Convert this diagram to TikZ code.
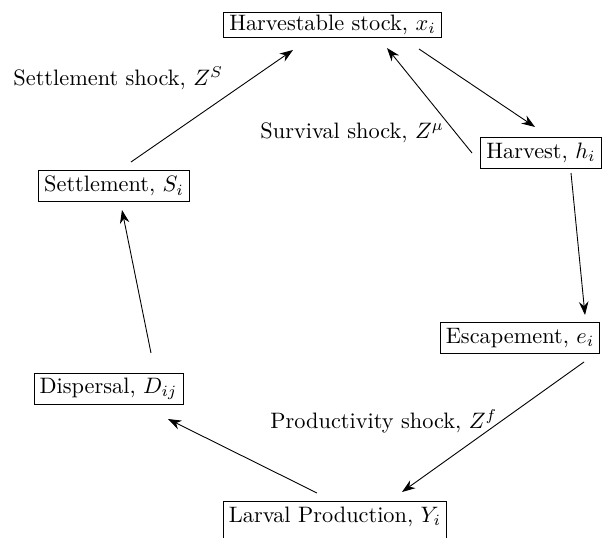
\documentclass[tikz,border=0pt]{standalone}
\usepackage{amsmath,amssymb}
\usetikzlibrary{arrows.meta}

\begin{document}
\begin{tikzpicture}[x=0.448pt, y=-0.448pt, >={Stealth[length=2.1mm,width=1.5mm]}, box/.style={draw, inner xsep=2.5pt, inner ysep=0pt, minimum height=13.9pt}]
	\useasboundingbox (0,0) rectangle (607,538);
	% stages of the cycle
	\node[box, minimum height=11.2pt] (stock) at (332.5,24.5) {Harvestable stock, $x_i$};
	\node[box] (harv) at (541,152.5) {Harvest, $h_i$};
	\node[box] (esc) at (520,338) {Escapement, $e_i$};
	\node[box, anchor=north, text height=9.5pt, text depth=10pt] (larv) at (335,501) {Larval Production, $Y_i$};
	\node[box] (disp) at (108.5,388.5) {Dispersal, $D_{ij}$};
	\node[box] (settle) at (114,186) {Settlement, $S_i$};
	% shocks
	\node[anchor=west, inner sep=0pt] (zs) at (13,78) {Settlement shock, $Z^S$};
	\node[anchor=west, inner sep=0pt] (zmu) at (260,133) {Survival shock, $Z^\mu$};
	\node[anchor=west, inner sep=0pt] (zf) at (270,421) {Productivity shock, $Z^f$};
	% flows
	\draw[->] ([shift={(17,-24)}]settle.center) -- ([shift={(-39.5,25.5)}]stock.center);
	\draw[->] ([shift={(86.5,24.5)}]stock.center) -- ([shift={(-6,-25.5)}]harv.center);
	\draw[->] ([shift={(-69,0.5)}]harv.center) -- ([shift={(54.5,23.5)}]stock.center);
	\draw[->] ([shift={(30,20.5)}]harv.center) -- ([shift={(65,-23)}]esc.center);
	\draw[->] ([shift={(64,24)}]esc.center) -- ([shift={(67,-9)}]larv.north);
	\draw[->] ([shift={(-18,-8)}]larv.north) -- ([shift={(59.5,30.5)}]disp.center);
	\draw[->] ([shift={(42.5,-35.5)}]disp.center) -- ([shift={(8,24)}]settle.center);
\end{tikzpicture}
\end{document}
